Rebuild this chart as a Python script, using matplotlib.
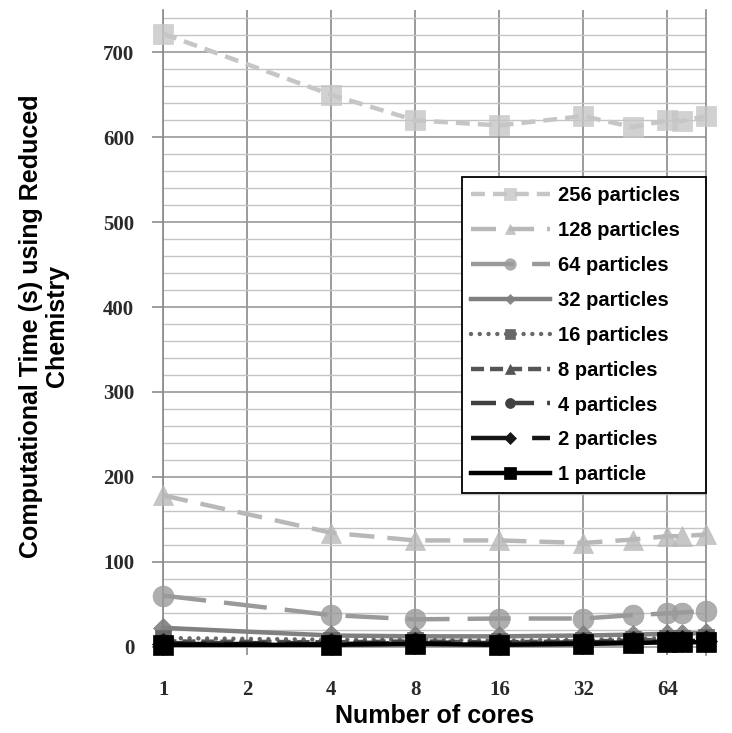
import matplotlib
matplotlib.use("Agg")
import matplotlib.pyplot as plt
import matplotlib.colors as mcolors
import numpy as np

plt.rcParams["lines.scale_dashes"] = False

cores = [1, 4, 8, 16, 32, 48, 64, 72, 88]
tick_cores = [1, 2, 4, 8, 16, 32, 64]
labels = ["256 particles", "128 particles", "64 particles", "32 particles",
          "16 particles", "8 particles", "4 particles", "2 particles", "1 particle"]

t256 = [722, 650, 620, 614, 625, 612, 620, 619, 625]
t128 = [178, 134, 125, 125, 122, 126, 130, 130, 132]
t64 = [60, 37, 32, 33, 33, 37, 39, 40, 42]
t32 = [22, 13, 12, 12, 13, 14, 15, 15, 16]
t16 = [10, 8, 8, 7, 8, 9, 10, 10, 11]
t8 = [6, 5, 6, 5, 6, 7, 8, 8, 9]
t4 = [4, 4, 5, 4, 5, 6, 7, 7, 8]
t2 = [3, 3, 4, 3, 4, 5, 6, 6, 7]
t1 = [2, 2, 3, 2, 3, 4, 5, 5, 5]
series = [t256, t128, t64, t32, t16, t8, t4, t2, t1]

colors = ["#c6c6c6", "#b8b8b8", "#9a9a9a", "#808080", "#686868",
          "#555555", "#404040", "#161616", "#000000"]
markers = ["s", "^", "o", "D", "s", "^", "o", "D", "s"]
msizes = [15, 14, 15, 10, 12, 12, 13, 11, 15]
alphas = [0.8, 0.8, 0.8, 0.9, 1, 1, 1, 1, 1]
styles = [(0, (10, 5.8)), (0, (18, 9.4)), (0, (31, 13)), "-", (0, (0.01, 6.3)),
          (0, (9.4, 4.3)), (0, (18, 9.4)), (0, (31, 13)), "-"]
caps = ["butt", "butt", "butt", "butt", "round", "butt", "butt", "butt", "butt"]

W, H = 732, 733
fig = plt.figure(figsize=(W / 100, H / 100), dpi=100)
x0, x1, ytop, ybot = 163.3, 706, 10, 655
ax = fig.add_axes([x0 / W, 1 - ybot / H, (x1 - x0) / W, (ybot - ytop) / H])

for ys, c, m, ms, a, ls, cap, lab in zip(series, colors, markers, msizes, alphas,
                                         styles, caps, labels):
    fc = mcolors.to_rgba(c, a)
    ax.plot(cores, ys, color=c, marker=m, markersize=ms, linestyle=ls,
            linewidth=3.2, markeredgecolor=fc, markerfacecolor=fc, markeredgewidth=0.5,
            label=lab, zorder=3, dash_capstyle=cap, clip_on=False)

ax.set_xscale("log", base=2)
ax.set_xlim(1, 88)
ax.set_ylim(-10, 750)
ax.set_xticks(tick_cores)
ax.set_xticklabels([str(v) for v in tick_cores])
ax.xaxis.set_minor_locator(matplotlib.ticker.NullLocator())
ax.tick_params(axis="x", length=0, pad=18, labelsize=15, labelcolor="#2a2a2a")
ax.set_yticks(np.arange(0, 701, 100))
ax.set_yticks(np.arange(0, 741, 20), minor=True)
ax.tick_params(axis="y", which="major", direction="out", length=8, color="#8c8c8c",
               width=1.2, pad=13, labelsize=15, labelcolor="#2a2a2a")
ax.tick_params(axis="y", which="minor", length=0)
for t in ax.get_yticklabels() + ax.get_xticklabels():
    t.set_fontfamily("Liberation Serif")
    t.set_fontweight("bold")
ax.grid(True, which="major", axis="x", color="#8a8a8a", linewidth=1.2, zorder=0)
ax.grid(True, which="major", axis="y", color="#9a9a9a", linewidth=1.2, zorder=0)
ax.grid(True, which="minor", axis="y", color="#c4c4c4", linewidth=1.0, zorder=0)
ax.set_axisbelow(True)
for s in ["top", "bottom"]:
    ax.spines[s].set_visible(False)
for s in ["left", "right"]:
    ax.spines[s].set_color("#8a8a8a")
    ax.spines[s].set_linewidth(1.2)

fig.text(435 / W, 1 - 716 / H, "Number of cores", ha="center", va="center",
         fontsize=18, fontweight="bold", family="Liberation Sans")
fig.text(44 / W, 1 - 326 / H, "Computational Time (s) using Reduced\nChemistry",
         ha="center", va="center", rotation=90, fontsize=18, fontweight="bold",
         family="Liberation Sans", linespacing=1.15)

lx0, lx1, ly0, ly1 = 462, 706, 177, 493
leg = ax.legend(loc="upper left",
                bbox_to_anchor=(lx0 / W, 1 - ly1 / H, (lx1 - lx0) / W, (ly1 - ly0) / H),
                bbox_transform=fig.transFigure, borderaxespad=0, frameon=True,
                fancybox=False, edgecolor="black", framealpha=1, mode="expand",
                prop={"family": "Liberation Sans", "weight": "bold", "size": 14.5},
                handlelength=3.9, handletextpad=0.43, labelspacing=0.79,
                borderpad=0.45, markerscale=0.55)
leg.get_frame().set_linewidth(1.3)
leg.set_zorder(10)

fig.savefig("out.png", dpi=100)
